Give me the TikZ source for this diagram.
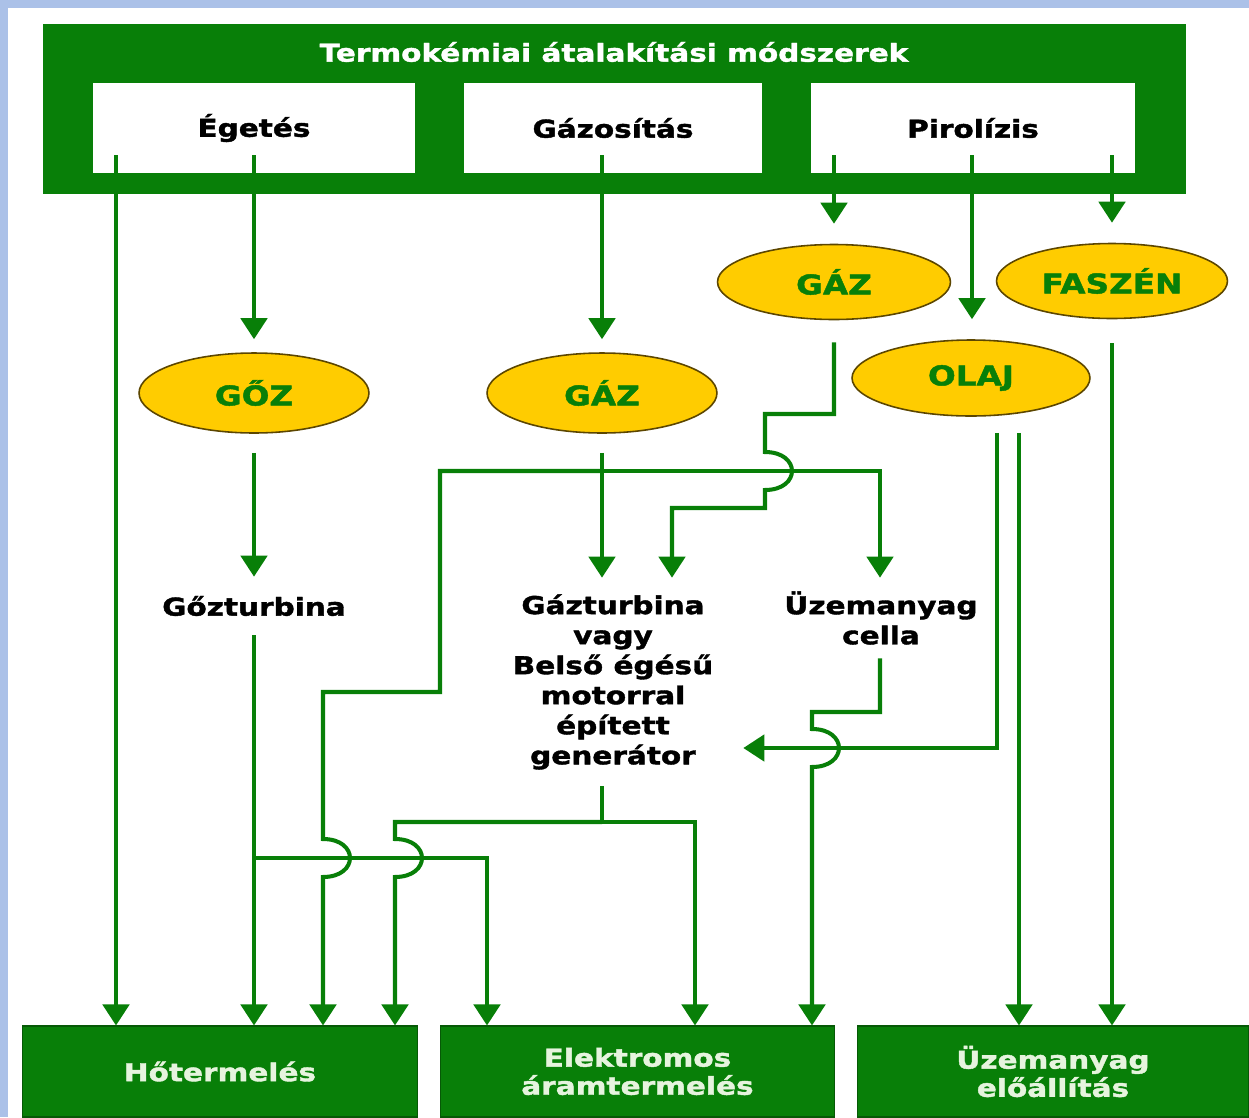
\documentclass[tikz,border=0pt]{standalone}
\usepackage{fontspec}
\setmainfont{DejaVu Sans}[FakeStretch=1.2, BoldFeatures={FakeBold=1.6}]
\usetikzlibrary{arrows.meta,shapes.geometric}
\definecolor{frameblue}{HTML}{ABC1E8}
\definecolor{boxgreen}{HTML}{087F08}
\definecolor{gold}{HTML}{FFCC00}
\definecolor{goldedge}{HTML}{5C4600}
\definecolor{palegreen}{HTML}{E6F4DE}
\tikzset{
  topbox/.style={fill=boxgreen, draw=none, inner sep=0pt},
  titletext/.style={text=white, font=\fontsize{14}{17}\selectfont\bfseries, inner sep=0pt},
  method/.style={fill=white, draw=none, minimum height=1.8cm, inner sep=0pt,
    font=\fontsize{14}{17}\selectfont\bfseries},
  product/.style={ellipse, fill=gold, draw=goldedge, line width=0.9pt, inner sep=0pt,
    text=boxgreen, font=\fontsize{15.5}{18}\selectfont\bfseries},
  device/.style={align=center, inner sep=0pt, font=\fontsize{14}{17.1}\selectfont\bfseries},
  result/.style={fill=boxgreen, draw=boxgreen!70!black, line width=0.6pt, align=center,
    inner sep=0pt, text=palegreen, font=\fontsize{14}{16}\selectfont\bfseries},
  flow/.style={draw=boxgreen, line width=2.3pt},
  arr/.style={flow, -{Triangle[length=12pt,width=15pt]}},
  hop/.style={to path={.. controls +(36,0) and +(36,0) .. (\tikztotarget)}}
}
\begin{document}
\begin{tikzpicture}[x=0.02cm,y=-0.02cm]
\useasboundingbox (0,0) rectangle (1249,1117);
% frame
\fill[frameblue] (0,0) rectangle (1249,8);
\fill[frameblue] (0,0) rectangle (8,1117);

% conversion methods
\node[topbox, minimum width=22.86cm, minimum height=3.4cm] (top) at (614.5,109) {};
\node[titletext] (title) at (614,52) {Termokémiai átalakítási módszerek};
\node[method, minimum width=6.44cm] (egetes) at (254,128) {Égetés};
\node[method, minimum width=5.96cm] (gazos) at (613,128) {Gázosítás};
\node[method, minimum width=6.48cm] (pirol) at (973,128) {Pirolízis};

% products
\node[product, minimum width=4.6cm, minimum height=1.6cm] (goz) at (254,393) {GŐZ};
\node[product, minimum width=4.6cm, minimum height=1.6cm] (gazm) at (602,393) {GÁZ};
\node[product, minimum width=4.66cm, minimum height=1.5cm] (gazr) at (834,282) {GÁZ};
\node[product, minimum width=4.76cm, minimum height=1.52cm] (olaj) at (971,378) {OLAJ};
\node[product, minimum width=4.62cm, minimum height=1.5cm] (faszen) at (1112,281) {FASZÉN};

% devices
\node[device, minimum height=1.16cm] (gozturb) at (254,606) {Gőzturbina};
\node[device, minimum width=5.2cm, minimum height=4.16cm] (gen) at (613,682)
  {Gázturbina\\vagy\\Belső égésű\\motorral\\épített\\generátor};
\node[device, minimum height=1.6cm] (cella) at (881,618) {Üzemanyag\\cella};

% end uses
\node[result, minimum width=7.92cm, minimum height=1.82cm] (heat) at (220,1071.5) {Hőtermelés};
\node[result, minimum width=7.9cm, minimum height=1.82cm] (elec) at (637.5,1071.5) {Elektromos\\áramtermelés};
\node[result, minimum width=7.84cm, minimum height=1.82cm] (fuel) at (1053,1071.5) {Üzemanyag\\előállítás};

% outputs of the methods
\coordinate (eA) at (116,155);
\coordinate (eB) at (254,155);
\coordinate (gA) at (602,155);
\coordinate (pA) at (834,155);
\coordinate (pB) at (972,155);
\coordinate (pC) at (1112,155);
\draw[arr] (eA) -- (eA |- heat.north);
\draw[arr, shorten >=2.6mm] (eB) -- (goz.north);
\draw[arr, shorten >=2.6mm] (gA) -- (gazm.north);
\draw[arr, shorten >=4mm] (pA) -- (gazr.north);
\draw[arr, shorten >=4mm] (pB) -- (pB |- olaj.north);
\draw[arr, shorten >=4mm] (pC) -- (faszen.north);

% steam
\draw[arr, shorten <=3.8mm] (goz.south) -- (gozturb.north);
\draw[arr] (gozturb.south) -- (gozturb.south |- heat.north);
\coordinate (jGoz) at (254,858);
\draw[arr] (jGoz) -- (487,858) -- (487,0 |- elec.north);

% gas from gasification
\draw[arr, shorten <=3.8mm] (gazm.south) -- (gazm.south |- gen.north);
\coordinate (jGaz) at (602,471);
\draw[arr] (jGaz) -- (880,471) -- (880,0 |- cella.north);
\draw[arr] (jGaz) -- (440,471) -- (440,692) -- (323,692) -- (323,839) to[hop] (323,877)
  -- (323,0 |- heat.north);

% gas from pyrolysis
\draw[arr, shorten <=4.4mm] (gazr.south) -- (834,414) -- (765,414) -- (765,452) to[hop] (765,490)
  -- (765,508) -- (672,508) -- (672,0 |- gen.north);

% oil
\draw[arr, shorten <=3.2mm] (olaj.south -| 997,0) -- (997,748) -- (gen.east |- 0,748);
\draw[arr, shorten <=3.2mm] (olaj.south -| 1019,0) -- (1019,0 |- fuel.north);

% charcoal
\draw[arr, shorten <=4.8mm] (faszen.south) -- (faszen.south |- fuel.north);

% fuel cell
\draw[arr] (cella.south -| 880,0) -- (880,712) -- (812,712) -- (812,729) to[hop] (812,767)
  -- (812,0 |- elec.north);

% generator
\coordinate (jGen) at (602,822);
\draw[flow] (gen.south -| jGen) -- (jGen);
\draw[arr] (jGen) -- (395,822) -- (395,839) to[hop] (395,877) -- (395,0 |- heat.north);
\draw[arr] (jGen) -- (695,822) -- (695,0 |- elec.north);
\end{tikzpicture}
\end{document}
